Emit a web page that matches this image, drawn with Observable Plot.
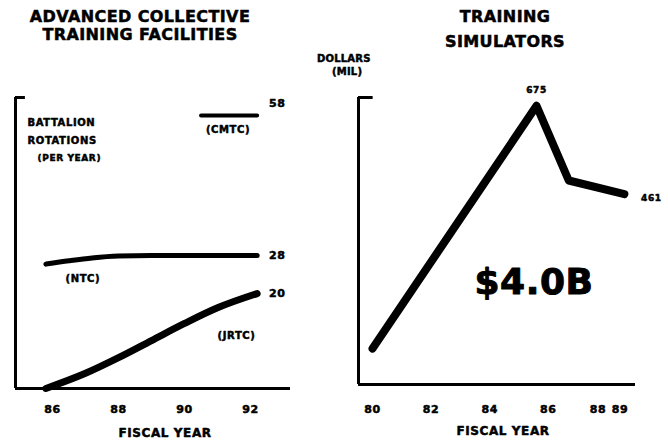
<!DOCTYPE html>
<html>
<head>
<meta charset="utf-8">
<script src="https://cdn.jsdelivr.net/npm/d3@7"></script>
<script src="https://cdn.jsdelivr.net/npm/@observablehq/plot@0.6"></script>
<style>
  html, body { margin: 0; padding: 0; background: #fff; }
  #wrap { position: relative; width: 668px; height: 446px; overflow: hidden; font-family: "DejaVu Sans", "Liberation Sans", Arial, sans-serif; font-weight: bold; color: #000; }
  .panel { position: absolute; top: 0; width: 334px; height: 446px; }
  .t { position: absolute; white-space: nowrap; line-height: 1; -webkit-text-stroke: 0.5px #000; }
  .title { font-size: 16px; letter-spacing: 0.4px; transform: translateX(-50%); text-align: center; }
  .small { font-size: 10px; letter-spacing: 0.2px; }
  svg text { letter-spacing: 0.6px; }
</style>
</head>
<body>
<div id="wrap">
  <div class="panel" id="left" style="left:0"></div>
  <div class="panel" id="right" style="left:334px"></div>
  <div class="t title" style="left:140px; top:9px">ADVANCED COLLECTIVE</div>
  <div class="t title" style="left:140px; top:27px">TRAINING FACILITIES</div>
  <div class="t title" style="left:505px; top:9px">TRAINING</div>
  <div class="t title" style="left:505px; top:34px">SIMULATORS</div>
  <div class="t small" style="left:317px; top:54px">DOLLARS</div>
  <div class="t small" style="left:332px; top:67px">(MIL)</div>
</div>
<script>
// ---- Left panel: battalion rotations per year ----
const leftTicks = [86, 88, 90, 92];
const leftTickLabels = ["86", "88", "90", "92"];
const ntcYears = [85.8, 86.5, 87.2, 88, 89, 90, 91, 92.2];
const ntcValues = [26.2, 26.9, 27.5, 27.9, 28, 28, 28, 28];
const jrtcYears = [85.8, 87, 88, 89, 90, 91, 92.2];
const jrtcValues = [0, 3.2, 6.5, 10.1, 13.7, 17, 20];
const cmtcYears = [90.5, 92.2];
const cmtcValues = [57.5, 57.5];
const ntcEndLabel = "28";
const jrtcEndLabel = "20";
const cmtcEndLabel = "58";
const leftAxisLines = ["BATTALION", "ROTATIONS", "(PER YEAR)"];

// ---- Right panel: training simulators, dollars (millions) ----
const simYears = [80, 85.6, 86.7, 88.6];
const simValues = [87, 675, 494, 461];
const rightTicks = [80, 82, 84, 86, 87.7, 88.45];
const rightTickLabels = ["80", "82", "84", "86", "88", "89"];
const simTotal = "$4.0B";

const leftX = [84.88, 93.21];
const leftY = [0, 61.3];
const rightX = [79.52, 88.98];
const rightY = [0, 695];

const ntc = ntcYears.map((x, i) => ({x, y: ntcValues[i]}));
const jrtc = jrtcYears.map((x, i) => ({x, y: jrtcValues[i]}));
const cmtc = cmtcYears.map((x, i) => ({x, y: cmtcValues[i]}));
const sim = simYears.map((x, i) => ({x, y: simValues[i]}));
const last = a => a[a.length - 1];

const FONT = "DejaVu Sans, Liberation Sans, Arial, sans-serif";
const common = {
  style: {fontFamily: FONT, fontWeight: "bold", background: "transparent", overflow: "visible"},
};
const txt = {fontWeight: "bold", fill: "#000", fontFamily: FONT, stroke: "#000", strokeWidth: 0.5};

const left = Plot.plot({
  ...common,
  width: 334, height: 446,
  marginLeft: 15, marginRight: 44, marginTop: 97, marginBottom: 58,
  x: {domain: leftX, axis: null},
  y: {domain: leftY, axis: null},
  marks: [
    Plot.ruleY([0], {stroke: "#000", strokeWidth: 3}),
    Plot.ruleX([leftX[0]], {stroke: "#000", strokeWidth: 3}),
    Plot.ruleY([leftY[1]], {x1: leftX[0], x2: leftX[0] + 0.3, stroke: "#000", strokeWidth: 3}),
    Plot.line(ntc, {x: "x", y: "y", stroke: "#000", strokeWidth: 5, curve: "monotone-x", strokeLinecap: "round"}),
    Plot.line(jrtc, {x: "x", y: "y", stroke: "#000", strokeWidth: 7, curve: "monotone-x", strokeLinecap: "round"}),
    Plot.line(cmtc, {x: "x", y: "y", stroke: "#000", strokeWidth: 4, strokeDasharray: "5,1.5"}),
    Plot.text([last(ntc)], {x: "x", y: "y", text: () => ntcEndLabel, dx: 20, fontSize: 11, ...txt}),
    Plot.text([last(jrtc)], {x: "x", y: "y", text: () => jrtcEndLabel, dx: 20, fontSize: 11, ...txt}),
    Plot.text([last(cmtc)], {x: "x", y: "y", text: () => cmtcEndLabel, dx: 20, dy: -12, fontSize: 11, ...txt}),
    Plot.text([ntc[0]], {x: "x", y: "y", text: () => "(NTC)", dx: 37, dy: 15, fontSize: 10, ...txt}),
    Plot.text([jrtc[4]], {x: "x", y: "y", text: () => "(JRTC)", dx: 52, dy: 12, fontSize: 10, ...txt}),
    Plot.text([cmtc[0]], {x: "x", y: "y", text: () => "(CMTC)", dx: 27, dy: 14, fontSize: 10, ...txt}),
    Plot.text([leftAxisLines[0]], {frameAnchor: "top-left", text: d => d, dx: 12, dy: 21, textAnchor: "start", fontSize: 10, ...txt}),
    Plot.text([leftAxisLines[1]], {frameAnchor: "top-left", text: d => d, dx: 12, dy: 39, textAnchor: "start", fontSize: 10, ...txt}),
    Plot.text([leftAxisLines[2]], {frameAnchor: "top-left", text: d => d, dx: 22, dy: 57, textAnchor: "start", fontSize: 9, ...txt}),
    Plot.text(leftTicks, {x: d => d, frameAnchor: "bottom", dy: 24, text: (d, i) => leftTickLabels[i], fontSize: 11, ...txt}),
    Plot.text(["FISCAL YEAR"], {frameAnchor: "bottom", dx: 12, dy: 48, text: d => d, fontSize: 12, ...txt})
  ]
});
document.getElementById("left").appendChild(left);

const right = Plot.plot({
  ...common,
  width: 334, height: 446,
  marginLeft: 24, marginRight: 33, marginTop: 97, marginBottom: 62,
  x: {domain: rightX, axis: null},
  y: {domain: rightY, axis: null},
  marks: [
    Plot.ruleY([0], {stroke: "#000", strokeWidth: 3}),
    Plot.ruleX([rightX[0]], {stroke: "#000", strokeWidth: 3}),
    Plot.ruleY([rightY[1]], {x1: rightX[0], x2: rightX[0] + 0.5, stroke: "#000", strokeWidth: 3}),
    Plot.line(sim, {x: "x", y: "y", stroke: "#000", strokeWidth: 8, strokeLinecap: "round", strokeLinejoin: "round"}),
    Plot.text([sim[1]], {x: "x", y: "y", text: d => String(d.y), dy: -16, fontSize: 9, ...txt}),
    Plot.text([sim[3]], {x: "x", y: "y", text: d => String(d.y), dx: 27, dy: 4, fontSize: 9, ...txt}),
    Plot.text([simTotal], {frameAnchor: "middle", text: d => d, dx: 37, dy: 41, fontSize: 36, ...txt, strokeWidth: 1}),
    Plot.text(rightTicks, {x: d => d, frameAnchor: "bottom", dy: 28, text: (d, i) => rightTickLabels[i], fontSize: 11, ...txt}),
    Plot.text(["FISCAL YEAR"], {frameAnchor: "bottom", dx: 6, dy: 50, text: d => d, fontSize: 12, ...txt})
  ]
});
document.getElementById("right").appendChild(right);
</script>
</body>
</html>
